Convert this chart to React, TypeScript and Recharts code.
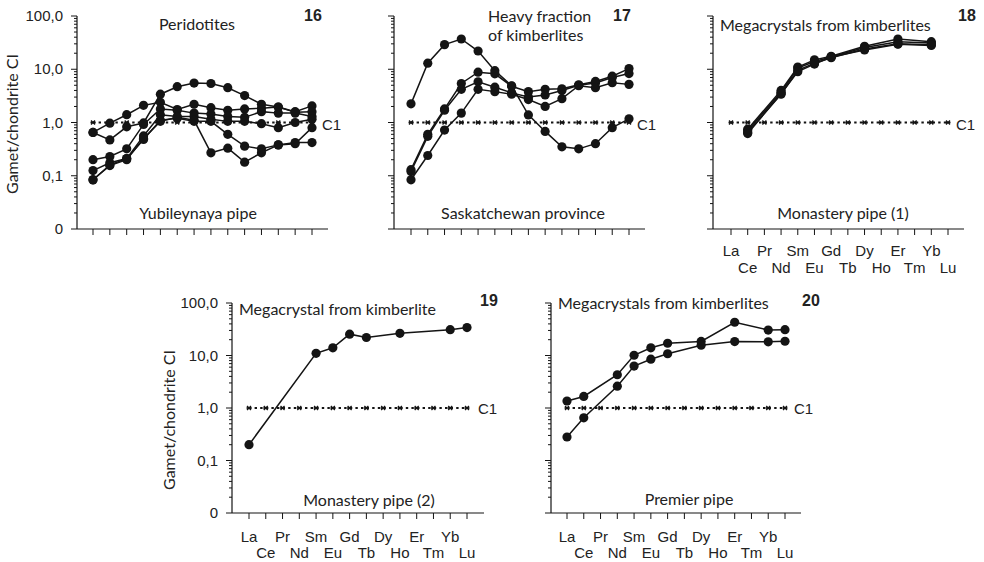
import React from 'react';
import { LineChart, Line, XAxis, YAxis } from 'recharts';

const elements = ['La', 'Ce', 'Pr', 'Nd', 'Sm', 'Eu', 'Gd', 'Tb', 'Dy', 'Ho', 'Er', 'Tm', 'Yb', 'Lu'];
const yTickLabels = ['0', '0,1', '1,0', '10,0', '100,0'];

// 16 - Peridotites, Yubileynaya pipe
const peridotites = [
    [0.65, 0.97, 1.4, 2.1, 2.4, 1.75, 2.2, 1.9, 1.7, 1.8, 1.85, 1.95, 1.6, 2.05],
    [0.65, 0.47, 0.83, 0.98, 3.4, 4.7, 5.5, 5.4, 4.5, 3.2, 2.2, 1.95, 1.55, 1.6],
    [0.2, 0.23, 0.32, 0.92, 1.8, 1.7, 1.5, 1.45, 1.3, 1.25, 1.6, 1.5, 1.5, 1.3],
    [0.125, 0.175, 0.21, 0.56, 1.4, 1.3, 1.3, 1.15, 1.05, 1.05, 0.95, 0.8, 1.0, 1.15],
    [0.083, 0.16, 0.21, 0.48, 1.1, 1.2, 1.05, 1.05, 0.6, 0.36, 0.32, 0.38, 0.4, 0.8],
    [0.085, 0.155, 0.2, 0.5, 1.05, 1.25, 1.1, 0.27, 0.33, 0.18, 0.27, 0.38, 0.42, 0.42],
];

// 17 - Heavy fraction of kimberlites, Saskatchewan
const heavyFraction = [
    [2.24, 13, 29, 37, 22, 9.4, 4.9, 1.39, 0.68, 0.35, 0.32, 0.4, 0.8, 1.17],
    [0.13, 0.6, 1.8, 5.4, 8.8, 8.2, 4.8, 3.8, 4.2, 4.3, 5.1, 5.9, 7.4, 10.3],
    [0.12, 0.55, 1.7, 4.2, 5.8, 4.6, 3.6, 3.0, 3.3, 4.0, 5.0, 5.5, 7.0, 8.3],
    [0.084, 0.24, 0.72, 1.5, 4.2, 3.8, 3.4, 2.7, 2.0, 2.8, 4.9, 4.5, 5.6, 5.2],
];

// 18 - Megacrystals, Monastery pipe (1)
const monastery1 = [
    [null, 0.75, null, 4.0, 11, 15, 17.5, null, 27, null, 37, null, 33, null],
    [null, 0.7, null, 3.7, 10.5, 14, 17, null, 25.5, null, 33, null, 31, null],
    [null, 0.65, null, 3.4, 9.5, 13, 16.5, null, 24, null, 30, null, 29, null],
    [null, 0.62, null, 3.5, 9, 12.5, 17, null, 23, null, 29.5, null, 28, null],
];

// 19 - Megacrystal, Monastery pipe (2)
const monastery2 = [
    [0.2, null, null, null, 11, 14, 25.5, 22, null, 26.5, null, null, 31, 34],
];

// 20 - Megacrystals, Premier pipe
const premier = [
    [1.36, 1.66, null, 4.3, 10.1, 14, 17.1, null, 18.5, null, 43, null, 30.5, 31],
    [0.28, 0.65, null, 2.6, 6.3, 8.5, 10.8, null, 15.7, null, 18.4, null, 18.2, 18.7],
];

const yTicks: number[] = [];
for (let d = -2; d < 2; d++) {
    yTicks.push(d);
    for (let k = 2; k <= 9; k++) yTicks.push(d + Math.log10(k));
}
yTicks.push(2);
const xTicks = elements.map((_, i) => i);

const INK = '#141414';
const tickFont = '"Liberation Sans", Arial, sans-serif';
const titleFont = 'Lato, "Open Sans", sans-serif';

const CrossDot = (p: any) => {
    const { cx, cy } = p;
    if (cx == null || cy == null) return <g key={p.index} />;
    return (
        <path
            key={p.index}
            d={`M${cx - 2} ${cy - 2}L${cx + 2} ${cy + 2}M${cx - 2} ${cy + 2}L${cx + 2} ${cy - 2}M${cx - 2.5} ${cy}L${cx + 2.5} ${cy}`}
            stroke={INK}
            strokeWidth={1.3}
        />
    );
};

type PanelProps = {
    axisX: number;
    axisEnd: number;
    la: number;
    lu: number;
    top: number;
    bottom: number;
    series: (number | null)[][];
    yLabels?: boolean;
    xLabels?: boolean;
    rowOffset?: [number, number];
};

const Panel = ({ axisX, axisEnd, la, lu, top, bottom, series, yLabels, xLabels, rowOffset = [22, 39] }: PanelProps) => {
    const unit = (lu - la) / 13;
    const domain = [-(la - axisX) / unit, 13 + (axisEnd - lu) / unit];
    const padL = 80, padT = 20, padR = 60, padB = 60;
    const plotBottom = bottom - top + padT;

    const rows = elements.map((el, i) => {
        const r: any = { i, el, c1: 0 };
        series.forEach((s, j) => {
            const v = s[i];
            r['s' + j] = v == null ? null : Math.log10(v);
        });
        return r;
    });

    const yTick = (p: any) => {
        const { y, payload } = p;
        const x = padL;
        const v = payload.value;
        const major = Math.abs(v - Math.round(v)) < 1e-6;
        return (
            <g key={`y-${p.index}`}>
                <line x1={x - (major ? 6 : 3)} x2={x} y1={y} y2={y} stroke={INK} strokeWidth={1} />
                {yLabels && major && (
                    <text x={x - 14} y={y + 5} textAnchor="end" fontSize={15} fontFamily={tickFont} fill="#222">
                        {yTickLabels[Math.round(v) + 2]}
                    </text>
                )}
            </g>
        );
    };

    const xTick = (p: any) => {
        const { x, payload } = p;
        const y = plotBottom;
        const i = payload.value;
        const dy = i % 2 === 0 ? rowOffset[0] : rowOffset[1];
        return (
            <g key={`x-${p.index}`}>
                <line x1={x} x2={x} y1={y} y2={y + 6} stroke={INK} strokeWidth={1} />
                {xLabels && (
                    <text x={x} y={y + dy + 5} textAnchor="middle" fontSize={15} fontFamily={tickFont} fill="#222">
                        {elements[i]}
                    </text>
                )}
            </g>
        );
    };

    return (
        <div style={{ position: 'absolute', left: axisX - padL, top: top - padT }}>
            <LineChart
                width={axisEnd - axisX + padL + padR}
                height={bottom - top + padT + padB}
                data={rows}
                margin={{ top: padT, right: padR, bottom: 0, left: 0 }}
            >
                <XAxis
                    type="number"
                    dataKey="i"
                    domain={domain}
                    ticks={xTicks}
                    interval={0}
                    height={padB}
                    tickSize={0}
                    tickMargin={0}
                    tickLine={false}
                    axisLine={{ stroke: INK, strokeWidth: 1.2 }}
                    tick={xTick}
                    allowDataOverflow
                />
                <YAxis
                    type="number"
                    domain={[-2, 2]}
                    ticks={yTicks}
                    interval={0}
                    width={padL}
                    tickSize={0}
                    tickMargin={0}
                    tickLine={false}
                    axisLine={{ stroke: INK, strokeWidth: 1.2 }}
                    tick={yTick}
                    allowDataOverflow
                />
                <Line
                    type="linear"
                    dataKey="c1"
                    stroke={INK}
                    strokeWidth={1.8}
                    strokeDasharray="2.4 3.2"
                    dot={(p: any) => <CrossDot key={`c-${p.index}`} {...p} />}
                    activeDot={false}
                    isAnimationActive={false}
                />
                {series.map((_, j) => (
                    <Line
                        key={j}
                        type="linear"
                        dataKey={'s' + j}
                        stroke={INK}
                        strokeWidth={1.5}
                        dot={{ r: 4.6, fill: INK, stroke: INK, strokeWidth: 0 }}
                        activeDot={false}
                        connectNulls
                        isAnimationActive={false}
                    />
                ))}
            </LineChart>
        </div>
    );
};

type LabelProps = {
    x: number;
    y: number;
    text: string;
    align?: 'left' | 'center';
    size?: number;
    bold?: boolean;
    font?: string;
    rotate?: boolean;
};

const Label = ({ x, y, text, align = 'left', size = 16, bold, font = titleFont, rotate }: LabelProps) => (
    <div
        style={{
            position: 'absolute',
            left: x,
            top: y,
            transform: rotate
                ? 'translate(-50%, -50%) rotate(-90deg)'
                : align === 'center'
                    ? 'translate(-50%, -50%)'
                    : 'translateY(-50%)',
            fontFamily: font,
            fontSize: size,
            fontWeight: bold ? 700 : 400,
            color: '#222',
            whiteSpace: 'nowrap',
            lineHeight: 1,
        }}
    >
        {text}
    </div>
);

export default function App() {
    return (
        <div style={{ position: 'absolute', left: 0, top: 0, width: 984, height: 562, background: '#fff', overflow: 'hidden' }}>
            <Panel axisX={77} axisEnd={328} la={93} lu={312} top={16} bottom={229} series={peridotites} yLabels />
            <Panel axisX={394} axisEnd={645} la={411} lu={629} top={16} bottom={229} series={heavyFraction} />
            <Panel axisX={713} axisEnd={964} la={731} lu={948} top={16} bottom={229} series={monastery1} xLabels />
            <Panel axisX={232} axisEnd={484} la={249} lu={467} top={303} bottom={513} series={monastery2} yLabels xLabels rowOffset={[24, 40]} />
            <Panel axisX={551} axisEnd={801} la={567} lu={785} top={303} bottom={513} series={premier} xLabels rowOffset={[24, 40]} />

            <Label x={12} y={124} text="Gamet/chondrite CI" rotate />
            <Label x={169} y={420} text="Gamet/chondrite CI" rotate />

            <Label x={197} y={24} text="Peridotites" align="center" />
            <Label x={198} y={213} text="Yubileynaya pipe" align="center" />
            <Label x={304} y={16} text="16" bold font={tickFont} />

            <Label x={488} y={16} text="Heavy fraction" />
            <Label x={488} y={35} text="of kimberlites" />
            <Label x={523} y={213} text="Saskatchewan province" align="center" />
            <Label x={613} y={16} text="17" bold font={tickFont} />

            <Label x={720} y={25} text="Megacrystals from kimberlites" />
            <Label x={843} y={213} text="Monastery pipe (1)" align="center" />
            <Label x={958} y={16} text="18" bold font={tickFont} />

            <Label x={239} y={309} text="Megacrystal from kimberlite" />
            <Label x={369} y={500} text="Monastery pipe (2)" align="center" />
            <Label x={480} y={301} text="19" bold font={tickFont} />

            <Label x={558} y={303} text="Megacrystals from kimberlites" />
            <Label x={689} y={499} text="Premier pipe" align="center" />
            <Label x={802} y={301} text="20" bold font={tickFont} />

            <Label x={322} y={124} text="C1" font={tickFont} size={15} />
            <Label x={637} y={124} text="C1" font={tickFont} size={15} />
            <Label x={956} y={124} text="C1" font={tickFont} size={15} />
            <Label x={478} y={408} text="C1" font={tickFont} size={15} />
            <Label x={794} y={408} text="C1" font={tickFont} size={15} />
        </div>
    );
}
